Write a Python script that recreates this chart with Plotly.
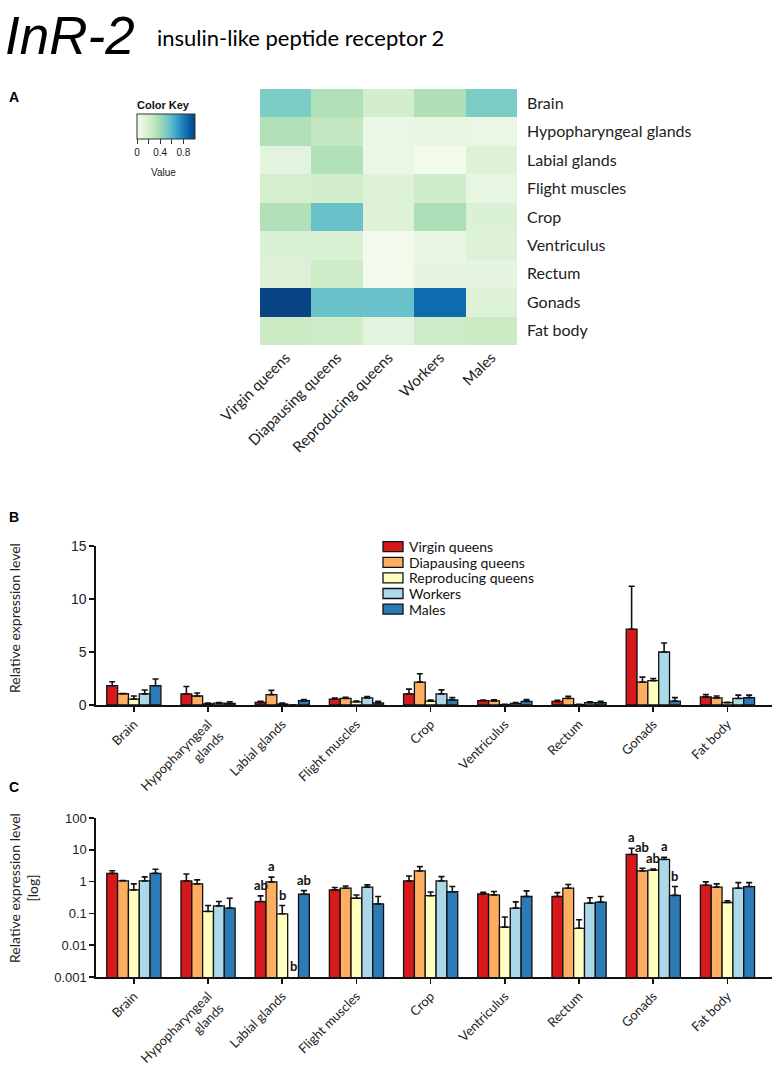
import numpy as np
import plotly.graph_objects as go

W, H = 779, 1071

groups = ["Virgin queens", "Diapausing queens", "Reproducing queens", "Workers", "Males"]
colors = ["#d7191c", "#fdae61", "#ffffbf", "#abd9e9", "#2c7bb6"]
tissues = ["Brain", "Hypopharyngeal glands", "Labial glands", "Flight muscles", "Crop",
           "Ventriculus", "Rectum", "Gonads", "Fat body"]
tissue_ticks = ["Brain", "Hypopharyngeal<br>glands", "Labial glands", "Flight muscles", "Crop",
                "Ventriculus", "Rectum", "Gonads", "Fat body"]

# heatmap values (rows = tissues, columns = groups), colour key 0..1
heat = [
    [0.50, 0.34, 0.21, 0.35, 0.50],
    [0.34, 0.28, 0.07, 0.09, 0.07],
    [0.11, 0.34, 0.07, 0.02, 0.14],
    [0.20, 0.21, 0.14, 0.24, 0.09],
    [0.34, 0.55, 0.14, 0.36, 0.16],
    [0.16, 0.16, 0.03, 0.09, 0.15],
    [0.15, 0.23, 0.03, 0.10, 0.10],
    [0.99, 0.55, 0.55, 0.86, 0.15],
    [0.25, 0.23, 0.11, 0.23, 0.25],
]
gnbu = ["#f7fcf0", "#e0f3db", "#ccebc5", "#a8ddb5", "#7bccc4",
        "#4eb3d3", "#2b8cbe", "#0868ac", "#084081"]

# relative expression: means and top of error bar, per group across tissues
vq_mean = [1.82, 1.05, 0.236, 0.55, 1.05, 0.41, 0.34, 7.15, 0.77]
vq_top = [2.20, 1.74, 0.357, 0.65, 1.50, 0.46, 0.45, 11.2, 0.98]
dq_mean = [1.06, 0.85, 0.98, 0.62, 2.16, 0.38, 0.62, 2.16, 0.67]
dq_top = [1.08, 1.13, 1.38, 0.73, 2.95, 0.49, 0.81, 2.63, 0.85]
rq_mean = [0.55, 0.115, 0.097, 0.30, 0.36, 0.037, 0.034, 2.30, 0.22]
rq_top = [0.85, 0.177, 0.177, 0.38, 0.47, 0.077, 0.063, 2.50, 0.25]
wk_mean = [1.05, 0.173, 0.0, 0.67, 1.05, 0.146, 0.21, 5.0, 0.62]
wk_top = [1.41, 0.236, 0.0, 0.79, 1.43, 0.23, 0.31, 5.85, 0.93]
ml_mean = [1.82, 0.146, 0.40, 0.20, 0.48, 0.34, 0.226, 0.37, 0.70]
ml_top = [2.45, 0.30, 0.52, 0.34, 0.70, 0.51, 0.34, 0.70, 0.93]

means = [vq_mean, dq_mean, rq_mean, wk_mean, ml_mean]
tops = [vq_top, dq_top, rq_top, wk_top, ml_top]

# significance letters in panel C: (tissue, group index, letter)
letters = [
    ("Labial glands", 0, "ab"), ("Labial glands", 1, "a"), ("Labial glands", 2, "b"),
    ("Labial glands", 3, "b"), ("Labial glands", 4, "ab"),
    ("Gonads", 0, "a"), ("Gonads", 1, "ab"), ("Gonads", 2, "ab"),
    ("Gonads", 3, "a"), ("Gonads", 4, "b"),
]


def px(x):
    return x / W


def py(y):
    return 1 - y / H


CAL = "Lato"
ARI = "Liberation Sans"
BARGAP = 0.27

fig = go.Figure()

# ---------- Panel A heatmap ----------
fig.add_trace(go.Heatmap(
    z=heat, x=groups, y=tissues, xaxis="x", yaxis="y",
    zmin=0, zmax=1,
    colorscale=[[i / (len(gnbu) - 1), c] for i, c in enumerate(gnbu)],
    colorbar=dict(
        orientation="h", x=px(137), xanchor="left", y=py(114), yanchor="top",
        lenmode="pixels", len=58, thickness=25, xpad=0, ypad=0,
        outlinewidth=1, outlinecolor="#333",
        tickvals=[0, 0.2, 0.4, 0.6, 0.8], ticktext=["0", "", "0.4", "", "0.8"],
        ticks="outside", ticklen=5, tickcolor="#333",
        tickfont=dict(family=ARI, size=10, color="#222"),
    ),
    hoverinfo="skip",
))

# ---------- Panels B and C bars ----------
for j, g in enumerate(groups):
    m = np.array(means[j], dtype=float)
    t = np.array(tops[j], dtype=float)
    for ax in ("2", "3"):
        fig.add_trace(go.Bar(
            x=tissue_ticks, y=m, name=g, xaxis="x" + ax, yaxis="y" + ax,
            marker=dict(color=colors[j], line=dict(color="#111", width=1.3)),
            error_y=dict(type="data", symmetric=False, array=np.clip(t - m, 0, None),
                         arrayminus=[0] * len(m), color="#111", thickness=1.6, width=3),
            showlegend=False, hoverinfo="skip",
        ))

shapes = []
annotations = []

# manual legend for panel B
for j, (g, c) in enumerate(zip(groups, colors)):
    yc = 546.7 + 15.6 * j
    shapes.append(dict(type="rect", xref="paper", yref="paper",
                       x0=px(383), x1=px(403), y0=py(yc + 5), y1=py(yc - 5),
                       fillcolor=c, line=dict(color="#111", width=1.3)))
    annotations.append(dict(text=g, xref="paper", yref="paper", x=px(407), y=py(yc),
                            xanchor="left", yanchor="middle", showarrow=False,
                            font=dict(family=CAL, size=14, color="#111")))

# letters in panel C
gw = 1 - BARGAP
for tis, j, let in letters:
    i = tissues.index(tis)
    xoff = -gw / 2 + (j + 0.5) * gw / len(groups)
    top = tops[j][i]
    yv = np.log10(top) if top > 0.001 else -3
    ysh = 1
    if tis == "Gonads" and j == 1:
        ysh = 11
    annotations.append(dict(text="<b>%s</b>" % let, xref="x3", yref="y3", x=i + xoff, y=yv,
                            xanchor="center", yanchor="bottom", yshift=ysh, showarrow=False,
                            font=dict(family=CAL, size=13, color="#111")))

# titles and panel labels
annotations += [
    dict(text="<i>InR-2</i>", xref="paper", yref="paper", x=px(3), y=py(4),
         xanchor="left", yanchor="top", showarrow=False,
         font=dict(family=ARI, size=53, color="#000")),
    dict(text="insulin-like peptide receptor 2", xref="paper", yref="paper", x=px(155), y=py(38),
         xanchor="left", yanchor="middle", showarrow=False,
         font=dict(family=CAL, size=22, color="#000")),
    dict(text="<b>A</b>", xref="paper", yref="paper", x=px(7), y=py(97), xanchor="left",
         yanchor="middle", showarrow=False, font=dict(family=ARI, size=14, color="#000")),
    dict(text="<b>B</b>", xref="paper", yref="paper", x=px(7), y=py(517), xanchor="left",
         yanchor="middle", showarrow=False, font=dict(family=ARI, size=14, color="#000")),
    dict(text="<b>C</b>", xref="paper", yref="paper", x=px(7), y=py(787), xanchor="left",
         yanchor="middle", showarrow=False, font=dict(family=ARI, size=14, color="#000")),
    dict(text="<b>Color Key</b>", xref="paper", yref="paper", x=px(163), y=py(105),
         xanchor="center", yanchor="middle", showarrow=False,
         font=dict(family=ARI, size=11, color="#111")),
    dict(text="Value", xref="paper", yref="paper", x=px(163), y=py(173),
         xanchor="center", yanchor="middle", showarrow=False,
         font=dict(family=ARI, size=10, color="#222")),
    dict(text="Relative expression level", xref="paper", yref="paper", x=px(14), y=py(618),
         xanchor="center", yanchor="middle", textangle=-90, showarrow=False,
         font=dict(family=CAL, size=14, color="#222")),
    dict(text="Relative expression level<br>[log]", xref="paper", yref="paper", x=px(23), y=py(888),
         xanchor="center", yanchor="middle", textangle=-90, showarrow=False,
         font=dict(family=CAL, size=14, color="#222")),
]

axline = dict(showline=True, linecolor="#111", linewidth=1.6, ticks="outside",
              ticklen=5, tickwidth=1.6, tickcolor="#111", showgrid=False, zeroline=False,
              automargin=False)

fig.update_layout(
    width=W, height=H, margin=dict(l=0, r=0, t=0, b=0, autoexpand=False),
    paper_bgcolor="white", plot_bgcolor="white",
    barmode="group", bargap=BARGAP, bargroupgap=0,
    showlegend=False,
    xaxis=dict(domain=[px(260), px(517)], anchor="y", tickangle=-45, ticks="",
               showline=False, showgrid=False, zeroline=False, automargin=False,
               tickfont=dict(family=CAL, size=15, color="#222")),
    yaxis=dict(domain=[py(345), py(89)], anchor="x", side="right", autorange="reversed",
               ticks="", showline=False, showgrid=False, zeroline=False, ticklabelstandoff=9,
               automargin=False, tickfont=dict(family=CAL, size=16, color="#222")),
    xaxis2=dict(domain=[px(96), px(772)], anchor="y2", range=[-0.51, 8.6], tickangle=-45,
                tickfont=dict(family=CAL, size=13, color="#222"), **axline),
    yaxis2=dict(domain=[py(705), py(546)], anchor="x2", range=[0, 15],
                tickvals=[0, 5, 10, 15], tickfont=dict(family=ARI, size=14, color="#222"), **axline),
    xaxis3=dict(domain=[px(96), px(772)], anchor="y3", range=[-0.51, 8.6], tickangle=-45,
                tickfont=dict(family=CAL, size=13, color="#222"), **axline),
    yaxis3=dict(domain=[py(977), py(818)], anchor="x3", type="log", range=[-3, 2],
                tickvals=[0.001, 0.01, 0.1, 1, 10, 100],
                ticktext=["0.001", "0.01", "0.1", "1", "10", "100"],
                tickfont=dict(family=ARI, size=13, color="#222"), **axline),
    shapes=shapes, annotations=annotations,
)

fig.write_html("out.html", config={"displayModeBar": False, "staticPlot": True},
               post_script="document.body.style.margin='0px';document.body.style.overflow='hidden';")
